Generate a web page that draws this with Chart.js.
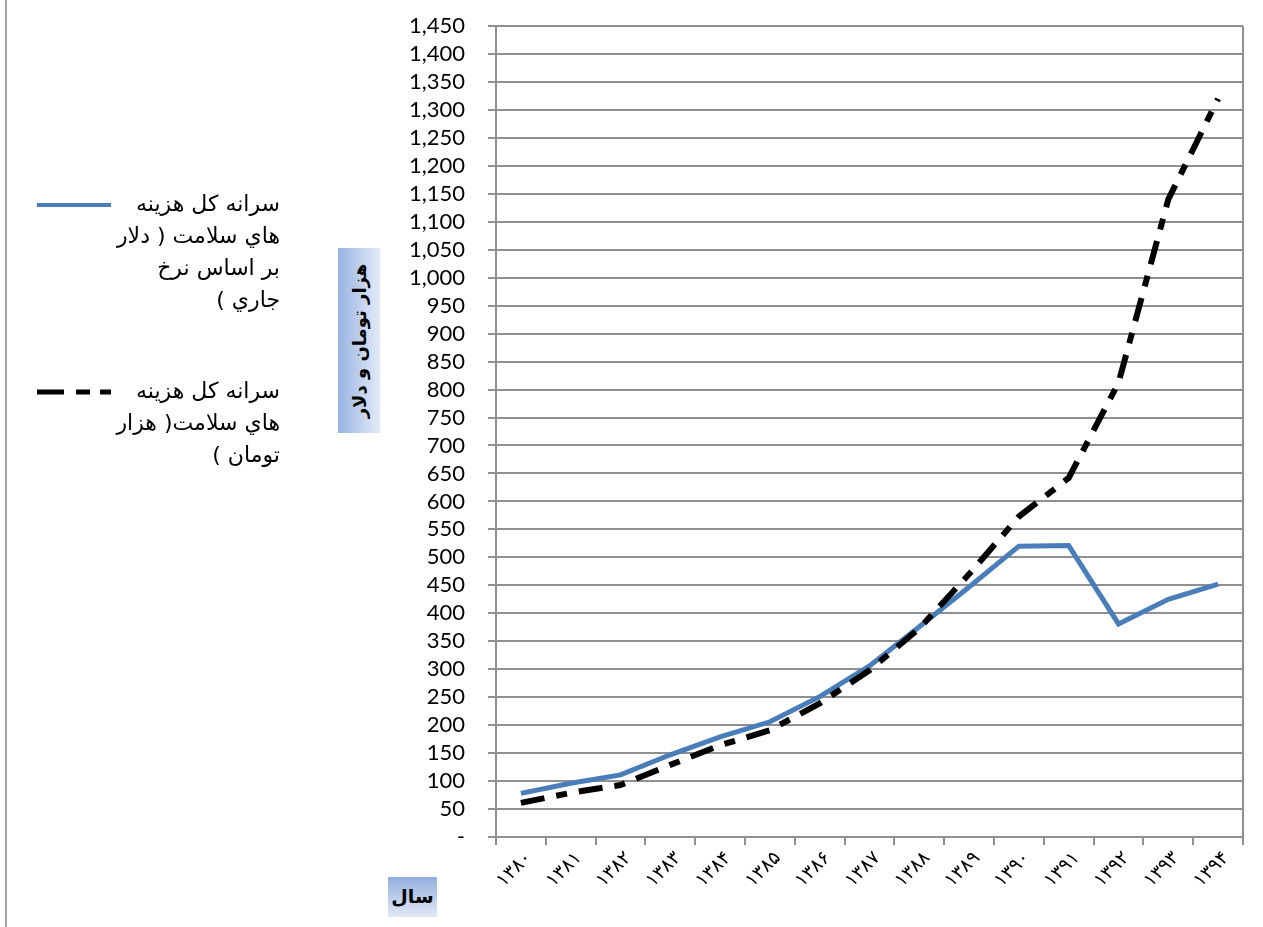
<!DOCTYPE html>
<html>
<head>
<meta charset="utf-8">
<script src="https://cdn.jsdelivr.net/npm/chart.js@4/dist/chart.umd.min.js"></script>
<style>
  html, body { margin: 0; padding: 0; background: #fff; }
  #wrap { position: relative; width: 1263px; height: 927px; overflow: hidden; }
  #chart { position: absolute; left: 0; top: 0; }
  .pageline { position: absolute; left: 5px; top: 0; width: 2px; height: 927px; background: #a3a3a3; }
  .legend-item { position: absolute; left: 30px; width: 250px; }
  .legend-text { position: absolute; right: 0; top: 0; direction: rtl; text-align: right;
                 font-family: "DejaVu Sans", sans-serif; font-size: 22px;
                 line-height: 32px; color: #000; white-space: nowrap; }
  .legend-sample { position: absolute; left: 7px; }
  .ytitle { position: absolute; left: 338px; top: 248px; width: 42px; height: 185px;
            background: linear-gradient(to right, #98b3e2, #e4ebf7); }
  .ytitle span { position: absolute; left: 50%; top: 50%; transform: translate(-50%, -50%) rotate(-90deg);
                 white-space: nowrap; direction: rtl; font-family: "DejaVu Sans", sans-serif;
                 font-weight: bold; font-size: 18px; color: #000; }
  .xtitle { position: absolute; left: 388px; top: 877px; width: 49px; height: 40px;
            background: linear-gradient(to bottom, #92aede, #e2e9f6); }
  .xtitle span { position: absolute; left: 50%; top: 50%; transform: translate(-50%, -55%);
                 white-space: nowrap; direction: rtl; font-family: "DejaVu Sans", sans-serif;
                 font-weight: bold; font-size: 19px; color: #000; }
</style>
</head>
<body>
<div id="wrap">
  <canvas id="chart" width="1263" height="927"></canvas>
  <div class="pageline"></div>
  <div id="legend"></div>
  <div class="ytitle"><span id="ytitleText"></span></div>
  <div class="xtitle"><span id="xtitleText"></span></div>
</div>
<script>
// ---- data ----
const categories = ['۱۳۸۰','۱۳۸۱','۱۳۸۲','۱۳۸۳','۱۳۸۴','۱۳۸۵','۱۳۸۶','۱۳۸۷','۱۳۸۸','۱۳۸۹','۱۳۹۰','۱۳۹۱','۱۳۹۲','۱۳۹۳','۱۳۹۴'];
const perCapitaUsd   = [78, 96, 111, 147, 179, 206, 251, 306, 376, 447, 520, 521, 381, 425, 452];
const perCapitaToman = [61, 79, 93, 129, 164, 191, 239, 298, 373, 470, 573, 642, 812, 1140, 1320];
const seriesUsdName   = ['سرانه کل هزینه', 'هاي سلامت ( دلار', 'بر اساس نرخ', 'جاري )'];
const seriesTomanName = ['سرانه کل هزینه', 'هاي سلامت( هزار', 'تومان )'];
const yAxisTitle = 'هزار تومان و دلار';
const xAxisTitle = 'سال';
const yMin = 0, yMax = 1450, yStep = 50;

document.getElementById('ytitleText').textContent = yAxisTitle;
document.getElementById('xtitleText').textContent = xAxisTitle;

const gridGray = '#8f8f8f';

const plotFrame = {
  id: 'plotFrame',
  afterDraw(chart) {
    const a = chart.chartArea, ctx = chart.ctx;
    ctx.save();
    ctx.strokeStyle = gridGray;
    ctx.lineWidth = 2;
    ctx.beginPath();
    ctx.moveTo(a.right, a.top);
    ctx.lineTo(a.right, a.bottom);
    ctx.stroke();
    ctx.restore();
  }
};

const chart = new Chart(document.getElementById('chart'), {
  type: 'line',
  data: {
    labels: categories,
    datasets: [
      { label: seriesUsdName.join(' '), lines: seriesUsdName, data: perCapitaUsd,
        borderColor: '#4a7ebb', backgroundColor: '#4a7ebb', borderWidth: 5,
        pointRadius: 0, tension: 0, fill: false, order: 1, legendTop: 188 },
      { label: seriesTomanName.join(' '), lines: seriesTomanName, data: perCapitaToman,
        borderColor: '#000000', backgroundColor: '#000000', borderWidth: 6,
        borderDash: [24, 12, 11, 12], borderCapStyle: 'butt',
        pointRadius: 0, tension: 0, fill: false, order: 0, legendTop: 375 }
    ]
  },
  options: {
    responsive: false,
    animation: false,
    devicePixelRatio: 1,
    layout: { padding: { left: 400, right: 20, top: 26, bottom: 0 } },
    plugins: { legend: { display: false }, tooltip: { enabled: false }, title: { display: false } },
    scales: {
      x: {
        type: 'category',
        offset: true,
        grid: { display: true, drawOnChartArea: false, drawTicks: true, tickLength: 8,
                color: gridGray, lineWidth: 2, offset: true },
        border: { display: true, color: gridGray, width: 2 },
        ticks: { autoSkip: false, minRotation: 45, maxRotation: 45, padding: 2, labelOffset: 8,
                 color: '#000', font: { family: '"DejaVu Sans", sans-serif', size: 19 } },
        afterFit(s) { s.height = 90; s.paddingLeft = 0; s.paddingRight = 0; }
      },
      y: {
        min: yMin, max: yMax,
        grid: { color: gridGray, lineWidth: 2, tickLength: 8, drawTicks: true },
        border: { display: true, color: gridGray, width: 2 },
        ticks: { stepSize: yStep, autoSkip: false, padding: 23, color: '#000',
                 font: { family: 'Lato, "Open Sans", sans-serif', size: 22 },
                 callback: v => v === 0 ? '-' : v.toLocaleString('en-US') },
        afterFit(s) { s.width = 96; s.paddingTop = 0; s.paddingBottom = 0; }
      }
    }
  },
  plugins: [plotFrame]
});

// ---- HTML legend built from the chart's datasets ----
(function buildLegend() {
  const host = document.getElementById('legend');
  chart.data.datasets.forEach(ds => {
    const item = document.createElement('div');
    item.className = 'legend-item';
    item.style.top = ds.legendTop + 'px';
    const txt = document.createElement('div');
    txt.className = 'legend-text';
    txt.innerHTML = ds.lines.map(l => '<div>' + l.replace(/</g, '&lt;') + '</div>').join('');
    item.appendChild(txt);
    const svgNS = 'http://www.w3.org/2000/svg';
    const svg = document.createElementNS(svgNS, 'svg');
    svg.setAttribute('class', 'legend-sample');
    svg.setAttribute('width', '74');
    svg.setAttribute('height', '10');
    svg.style.top = '12px';
    const ln = document.createElementNS(svgNS, 'line');
    ln.setAttribute('x1', '0'); ln.setAttribute('x2', '74');
    ln.setAttribute('y1', '5'); ln.setAttribute('y2', '5');
    ln.setAttribute('stroke', ds.borderColor);
    ln.setAttribute('stroke-width', ds.borderWidth - 1);
    if (ds.borderDash) ln.setAttribute('stroke-dasharray', '27 12 14 10');
    svg.appendChild(ln);
    item.appendChild(svg);
    host.appendChild(item);
  });
})();
</script>
</body>
</html>
